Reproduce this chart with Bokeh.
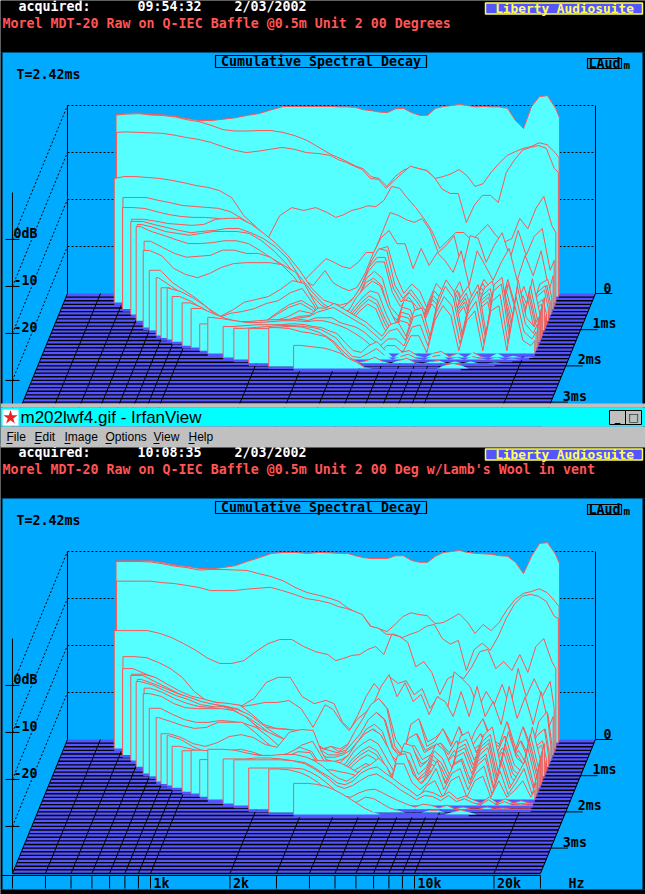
import numpy as np
from bokeh.plotting import figure
from bokeh.embed import file_html
from bokeh.resources import INLINE
from bokeh.core.properties import value

# shared frequency grid of the decay slices (Hz)
HZ = [456,506,562,624,693,770,855,949,1054,1170,1299,1442,1601,1778,1974,2192,2434,2702,3000,
      3217,3450,3699,3966,4253,4560,4890,5244,5623,6029,6465,6933,7434,7971,8548,9166,9829,10540,
      11300,12120,12990,13930,14940,16020,17180,18420,19750,21180,21930]
# time of each slice (ms) and the frequency where it begins (Hz)
SLICE_MS = [0,.03,.08,.25,.36,.43,.52,.58,.69,.75,.88,.94,1.02,1.16,1.23,1.27,1.33,1.44,1.49,1.58,1.66,1.77,1.82,1.93,2.02,2.07]
SLICE_HZ = [460,460,465,466,510,513,562,562,603,602,656,656,699,756,796,844,888,983,1070,1167,1265,1467,1621,1873,2256,2820]

# ---- first measurement, dB per slice (right aligned on HZ)
a00=[-1.9,-1.7,-1.6,-1.9,-2,-2.3,-2.8,-3.2,-3.2,-2.9,-2.6,-2.1,-1.7,-.9,-.2,-.2,-.2,-.2,-.2,-.3,-.3,-.4,-.9,-1.1,-1.4,-1.5,-.7,-.6,-1.5,-2.1,-2.1,-.6,-.2,0,.2,0,-.3,-.2,-.3,-.3,-.6,-3.2,-4.9,-.2,1.9,2.1,-.6,-2.6]
a01=[-1.8,-1.6,-1.5,-1.8,-1.9,-2.2,-2.8,-3.2,-4,-4.9,-5.2,-5.2,-5.1,-5.1,-5.5,-6.2,-7.2,-8.7,-10.2,-10.9,-11.7,-12.6,-13.2,-14.9,-15.3,-17,-14.9,-13.6,-12.8,-13.2,-13.6,-15.3,-14.9,-14.3,-13.4,-14.7,-17,-16.4,-14,-12.1,-10.4,-9.6,-8.9,-8.5,-7.7,-8.1,-9.8,-10.9]
a02=[-5.1,-5,-5.1,-5.2,-5.3,-5.7,-6.2,-6.6,-7.2,-8.1,-8.9,-9.4,-9.1,-8.7,-8.3,-8.7,-9.4,-9.6,-10,-10.9,-11.5,-12.3,-13,-14.9,-15.1,-17,-15.3,-13.8,-12.3,-12.8,-13.2,-14.7,-17.2,-18.1,-18.1,-24.3,-20.6,-18.5,-18.5,-20,-13.6,-11,-8.9,-8.3,-7.9,-8.5,-12.8,-13.6]
a03=[-13.6,-13.2,-13.2,-13.4,-13.6,-14,-14.5,-15.1,-15.5,-16.2,-17.7,-21.5,-23.8,-26.4,-21.5,-19.8,-20.4,-19.8,-20.9,-21.9,-21.3,-20.4,-20,-19.4,-19.6,-18.3,-15.3,-15.7,-17.9,-19.8,-22.1,-24.7,-28.5,-26.8,-25.1,-25.1,-26.8,-25.1,-23.4,-25.7,-27.2,-26.4,-22.1,-24.3,-20,-17.4,-23.6,-25.1]
a04=[-16.8,-16.8,-17.4,-17.9,-18.5,-18.7,-18.9,-19.1,-19.8,-21.3,-23,-25.1,-28.5,-31.9,-34.9,-32.3,-29.8,-30.6,-31.5,-31.9,-30.6,-28.5,-28.5,-24.3,-20,-20.6,-21.5,-22.1,-21.3,-23.8,-28.5,-27,-24.9,-32.3,-24.9,-25.5,-30.6,-27,-24.3,-29.8,-23.8,-29.1,-25.1,-23.4,-32.3,-30.2]
a05=[-18.4,-18.6,-19.3,-19.9,-20.3,-20.5,-20.5,-20.7,-21.2,-21.6,-22.9,-24.6,-26.5,-29.3,-33.5,-35,-31.8,-34.4,-35.4,-36.1,-35.4,-32.4,-28.2,-24.8,-23.3,-26.1,-26.1,-31.4,-27.1,-30.7,-28,-29.7,-32.2,-27.6,-35,-27.6,-30.7,-33.9,-30.1,-27.1,-33.9,-28.6,-32.9,-27.6,-36.1,-32.9]
a06=[-20.2,-20.6,-21.1,-21.3,-21.5,-21.3,-20.2,-20,-20,-21.3,-23.2,-25.3,-27.9,-31.1,-34.9,-37.4,-38,-38.5,-38,-36.5,-34,-29.5,-26.5,-26,-32,-36,-34,-35.5,-39.5,-38,-36,-36.5,-33.5,-39,-37,-33,-35,-39.5,-33,-39,-34.5,-39.5,-34,-33,-37]
a07=[-20.2,-20.9,-21.5,-22.1,-22.6,-22.3,-22.1,-21.7,-21.7,-22.6,-23.8,-25.5,-27.9,-31.7,-34.9,-37.7,-38.7,-38.7,-38.5,-37.7,-34.3,-28.9,-26,-26.4,-33.8,-36.6,-34.7,-37,-39.8,-37.7,-36.6,-38.1,-35.3,-39.8,-36.6,-33.4,-36.6,-39.1,-33.8,-39.6,-36,-39.8,-36,-33.8,-38.1]
a08=[-20,-20.6,-21.5,-21.9,-22.3,-21.9,-21.5,-21.5,-21.5,-21.9,-23.4,-25.5,-28.1,-31.1,-34.5,-37.2,-38,-38,-37.5,-36,-33,-29,-27,-27,-33.5,-36.5,-34.5,-36.5,-39.5,-38,-37,-37.5,-34,-39.5,-37,-33.5,-36,-39.5,-34,-39.5,-35.5,-39.5,-34.5,-33,-37]
a09=[-20,-21.1,-21.9,-22.8,-23.6,-23.6,-23.4,-23,-23,-23.6,-25.1,-26.8,-28.3,-29.8,-34.7,-37.9,-38.5,-38,-37,-35.5,-33,-29.5,-27.5,-27.5,-34,-37,-35,-37,-39.5,-38.5,-37.5,-38,-34.5,-39.5,-37.5,-34,-36,-39.5,-34.5,-39,-36,-39.5,-35,-33.5,-37.5]
a10=[-22.1,-23.4,-24.7,-25.5,-25.3,-25.1,-24,-24,-24.7,-24.7,-25.5,-27.4,-30.4,-33.6,-36.4,-38,-38,-37.5,-36.5,-34,-30,-28.5,-30,-36,-38,-35.5,-37.5,-39.5,-39,-37.5,-38,-35,-39.5,-38,-35,-36.5,-39.5,-35,-39.5,-36.5,-39.5,-36,-34.5,-37.5]
a11=[-23.6,-24.7,-27.4,-28.7,-29.4,-28.5,-27.2,-26.4,-26.2,-26.2,-26.2,-26.6,-29.1,-32.6,-36.4,-38,-38.5,-38,-37,-34.5,-30.5,-29.5,-31,-37,-38.5,-36,-38,-39.5,-39,-38,-38.5,-35.5,-39.5,-38,-36,-37,-39.5,-36,-39.5,-37,-39.5,-36.5,-35,-38]
a12=[-27.2,-29.8,-31.5,-33.2,-35.3,-37,-35.7,-34,-33.4,-32.8,-31.3,-29.4,-30,-34.7,-37.5,-38.5,-38,-36,-33,-31,-29.5,-30.5,-35,-38.5,-33.5,-34,-39,-34,-30,-32,-38.5,-33,-30.5,-36,-31,-29.5,-38,-30,-36.5,-38,-29,-37,-33]
a13=[-27.7,-29.4,-31.1,-33.2,-34.7,-36.2,-35.3,-34.9,-34.3,-33.2,-32.6,-30.9,-30,-33.6,-37.5,-38.5,-38.5,-36.5,-34,-32,-30.5,-31,-35.5,-39,-34,-34.5,-39.5,-34.5,-30.5,-32.5,-39,-33.5,-31,-36.5,-31.5,-30,-38.5,-30.5,-37,-38.5,-29.5,-37.5,-33.5]
a14=[-29.3,-31,-32.7,-34.1,-35.6,-36.3,-36.5,-36.5,-36.5,-34.6,-32.9,-32,-33.5,-36.5,-38,-38.5,-37,-34.5,-32.5,-31,-32,-36,-39,-34.5,-35,-39.5,-35,-31,-33,-39,-34,-31.5,-37,-32,-30.5,-39,-31,-37.5,-39,-30,-38,-34]
a15=[-29.1,-29.8,-31.1,-32.8,-34.9,-36.4,-36.2,-36.2,-36.2,-34.7,-33.2,-32.3,-33.8,-37,-38,-39,-37.5,-35,-33,-31.5,-32.5,-36.5,-39.5,-35,-35.5,-39.5,-35.5,-31.5,-33.5,-39.5,-34.5,-32,-37.5,-32.5,-31,-39.5,-31.5,-38,-39.5,-30.5,-38.5,-34.5]
a16=[-30.4,-31.5,-33.2,-34.7,-36,-36.2,-36.4,-36.2,-35.5,-34.7,-33.4,-34,-37,-38.5,-39,-38,-35.5,-33.5,-32,-33,-37,-39.5,-35.5,-36,-39.5,-36,-32,-34,-39.5,-35,-32.5,-38,-33,-31.5,-39.5,-32,-38.5,-39.5,-31,-39,-35]
a17=[-30.9,-31.9,-33.8,-35.1,-35.7,-36,-35.7,-35.1,-34.7,-33.8,-33.6,-32,-32,-31,-32,-33,-34,-35,-36.5,-38,-35.5,-35,-38,-32.5,-32,-38,-30,-26,-28.5,-37.5,-30,-27,-37.5,-27,-25.5,-37.5,-26,-34,-36,-34]
a18=[-31.7,-32.8,-33.8,-34.5,-34.9,-34.9,-34.7,-34.3,-33.8,-33.4,-32.5,-32,-31.5,-32.5,-33.5,-34.5,-35.5,-37,-38.5,-36.5,-36,-38.5,-33.5,-33,-38.5,-31,-27,-29.5,-38,-31,-28,-38,-28,-26.5,-38,-27,-35,-37,-35]
a19=[-34.3,-34.3,-34,-33.8,-33.8,-33.6,-33.4,-33.4,-33.2,-33.6,-33,-33,-33,-34,-34.5,-35,-36,-37.5,-39,-37.5,-37.5,-39,-35,-34.5,-39,-32,-28.5,-30.5,-38.5,-32,-29.5,-38.5,-29.5,-28,-38.5,-28.5,-36,-37.5,-36]
a20=[-32.3,-32.6,-33,-33.4,-33.4,-33.2,-33,-33,-33.2,-33,-33,-33.4,-34,-34.7,-35.7,-36.8,-38.3,-39.8,-38.3,-38.3,-39.8,-36.2,-36.2,-39.8,-33,-29.8,-31.9,-39.4,-33,-30.9,-39.4,-30.9,-29.8,-39.4,-29.8,-37.2,-38.3,-37.2]
a21=[-33.4,-33.2,-33,-33,-33,-32.8,-33,-33.4,-33.6,-34.3,-34.9,-36.8,-38.5,-38.9,-37.4,-36.6,-38.5,-40,-38.9,-38.5,-39.6,-40,-39.1,-38.7,-39.8,-39.1,-40,-38.9,-39.8,-40,-39.1,-40,-39.6,-40,-39.8,-40]
a22=[-33.4,-33.2,-33,-32.8,-32.8,-33,-33.2,-33.6,-34.5,-35.5,-37.7,-39.4,-39.6,-38.7,-37.7,-39.1,-40,-39.4,-38.9,-39.8,-40,-39.4,-39.1,-40,-39.6,-40,-39.4,-39.8,-40,-39.6,-40,-39.8,-40,-40,-40]
a23=[-32.6,-32.6,-32.3,-32.1,-32.3,-32.8,-33.4,-34.3,-35.5,-37.4,-38.9,-39.8,-39.4,-38.7,-39.6,-40,-39.4,-38.9,-39.8,-40,-39.6,-39.4,-40,-39.6,-40,-39.6,-40,-40,-39.8,-40,-40,-40,-40,-40]
a24=[-31.7,-31.9,-32.6,-32.8,-33.2,-33.6,-34.9,-37,-38.7,-39.8,-40,-40,-40,-40,-40,-40,-40,-40,-40,-40,-40,-40,-40,-40,-40,-40,-40,-40,-40,-40,-40,-40]
a25=[-35.1,-35.3,-35.5,-35.7,-36.2,-36.8,-37.9,-38.7,-39.8,-40,-40,-40,-40,-40,-40,-40,-40,-40,-39.3,-38.9,-39.3,-40,-40,-40,-40,-40,-40,-40,-40,-40]

# ---- second measurement (lamb's wool in vent), dB per slice
b00=[-2,-2,-2,-2,-2.4,-2.9,-3.2,-3.6,-3.7,-3.4,-3,-2.1,-1.3,-.4,-.2,-.2,-.4,-.2,-.3,-.4,-.4,-.9,-1.3,-1.5,-1.5,-1.5,-.9,-.9,-1.9,-2.3,-2.3,-1,-.2,0,.2,-.2,-.4,-.5,-.6,-.9,-1,-2.3,-4.7,-1,1.7,1.9,-.6,-2.6]
b01=[-1.9,-1.9,-1.9,-2,-2.4,-2.9,-3.2,-3.7,-3.6,-3.6,-3.7,-3.8,-4.5,-5.1,-6,-7.4,-8.5,-9.1,-9.8,-10.4,-11.7,-12.6,-13.4,-15.7,-16.2,-16.8,-15.3,-13.6,-12.8,-13.2,-13.4,-15.1,-14.9,-14,-13,-14.7,-17.2,-15.3,-16.6,-14.9,-12.1,-10,-8.7,-8.3,-7.7,-8.5,-10.4,-11.5]
b02=[-5.7,-5.7,-5.7,-5.7,-6,-6.2,-6.6,-7,-7.7,-7.7,-7.7,-7.4,-7.2,-7,-7.7,-8.5,-9.4,-9.8,-10.4,-11.1,-11.5,-12.1,-12.8,-15.3,-15.7,-17,-17,-17.7,-17,-16.4,-15.3,-14.9,-17.9,-19.1,-18.3,-24.7,-20.2,-18.9,-20.4,-17.4,-13.6,-10.6,-8.9,-8.5,-8.9,-10,-13.2,-13.6]
b03=[-14.9,-14.9,-14.9,-14.9,-15.5,-16.4,-17.7,-19.1,-20.8,-21.9,-21.9,-21.3,-19.4,-17.7,-16.8,-16.8,-18.3,-19.4,-20,-21.3,-20.8,-20.2,-20,-18.9,-18.3,-20,-15.7,-16.2,-17.4,-22.6,-21.5,-23.8,-28.5,-25.1,-24.3,-25.1,-22.6,-19.4,-18.9,-23,-21.5,-23.4,-20,-23.8,-18.3,-16.6,-21.5,-23]
b04=[-19.6,-19.8,-20.8,-22.1,-24,-27,-28.9,-29.4,-29.8,-30,-28.5,-25.1,-24,-24,-28.1,-29.6,-28.9,-29.6,-33.4,-35.1,-31.9,-28.1,-25.3,-27.4,-24,-25.3,-24.7,-27.7,-26.4,-30.6,-28.1,-32.3,-22.8,-24.3,-26,-30.6,-27,-29.8,-25.5,-30.6,-22.1,-28.1,-24.3,-28.1,-24.9,-30.6]
b05=[-21.6,-22.7,-23.7,-25.6,-27.1,-28.8,-29.5,-29.9,-30.1,-29.7,-29.3,-28.8,-28.8,-28.4,-30.1,-34.1,-29.3,-30.3,-32.9,-34.8,-32.4,-31,-29.3,-25.4,-22.9,-27.6,-24.6,-28.6,-27.1,-31.4,-27.6,-28.6,-31.8,-26.5,-31.8,-25.4,-31.8,-28.6,-33.5,-25.4,-32.2,-27.6,-33.5,-26.5,-33.9,-31.8]
b06=[-22.1,-22.8,-24.3,-25.7,-26.8,-27.4,-28.1,-28.3,-28.7,-30.6,-32.8,-33.6,-33.8,-34.3,-36.4,-37.9,-37.5,-38,-37,-34.5,-32,-29,-27.5,-29.5,-36,-38.5,-33,-32,-36.5,-35.5,-34,-37,-33.5,-38,-34.5,-32,-36,-37,-32.5,-38,-33.5,-38,-32.5,-30.5,-37]
b07=[-21.9,-23.2,-24.5,-25.8,-26.8,-27.7,-28.1,-28.5,-29.1,-31.1,-32.8,-33.2,-33.4,-33.6,-35.3,-37.7,-37,-38.1,-37,-33.8,-31.1,-28.1,-26.8,-28.9,-37,-39.1,-32.3,-31.1,-37,-36,-33.2,-37,-32.8,-38.1,-33.8,-31.1,-36,-37,-31.7,-38.1,-32.8,-38.1,-31.7,-29.6,-37]
b08=[-21.9,-22.8,-23.8,-24.9,-25.7,-26.6,-27.2,-27.7,-28.3,-29.4,-31.3,-33.2,-34.7,-35.5,-36,-36.6,-37,-37.5,-37,-35.5,-33.5,-30.5,-29,-30.5,-36.5,-38,-34.5,-33.5,-37,-36,-35.5,-37.5,-35,-38,-36,-33.5,-37,-37.5,-34,-38.5,-35,-38.5,-34,-32.5,-37.5]
b09=[-21.9,-22.6,-23.8,-24.9,-25.7,-26.8,-27.2,-27.9,-28.5,-29.6,-31.3,-33.4,-34.7,-35.1,-35.3,-36.4,-37.5,-37.5,-37,-35,-33,-30,-28.5,-30,-36,-38,-34,-33,-37,-36,-35,-37.5,-34.5,-38,-35.5,-33,-36.5,-37.5,-33.5,-38.5,-34.5,-38.5,-33.5,-32,-37.5]
b10=[-22.3,-23.2,-24.5,-25.5,-26.2,-26.4,-26.2,-27,-28.7,-30.6,-31.9,-33,-33.8,-35.1,-36,-37,-37,-36.5,-35.5,-33.5,-31,-30,-31.5,-36.5,-38,-35,-34.5,-37.5,-36.5,-36,-38,-35.5,-38.5,-36,-34.5,-37,-38,-35,-38.5,-35.5,-38.5,-35,-33.5,-37.5]
b11=[-23,-23.6,-25.1,-26,-26.2,-26.2,-26.2,-26.6,-27.9,-30.2,-32.8,-34.5,-35.1,-35.3,-36,-37,-37.5,-37,-36,-34,-31.5,-30.5,-32,-37,-38.5,-35.5,-35,-38,-37,-36.5,-38,-36,-38.5,-36.5,-35,-37.5,-38.5,-35.5,-39,-36,-39,-35.5,-34,-38]
b12=[-25.5,-26.8,-27.9,-28.5,-28.5,-28.1,-28.3,-28.7,-29.6,-31.5,-33.8,-34.9,-35.7,-36.2,-37,-37.5,-37,-35.5,-33,-31,-30,-31,-34,-37.5,-33,-33.5,-38,-36.5,-33,-34.5,-38.5,-31.5,-30.5,-35,-31,-29.5,-37.5,-30.5,-36,-37.5,-29.5,-36.5,-33]
b13=[-26.4,-27.2,-28.1,-28.7,-28.5,-27.4,-27.4,-27.4,-29.4,-31.7,-33.6,-34.9,-35.5,-36,-37,-38,-37.5,-36,-33.5,-32,-31,-32,-35,-38,-33.5,-34,-38.5,-37,-33.5,-35,-39,-32,-31,-35.5,-31.5,-30,-38,-31,-36.5,-38,-30,-37,-33.5]
b14=[-29.3,-30.1,-31.4,-32,-31.2,-29.9,-29.5,-30.1,-31.6,-32.2,-29,-28.4,-28.6,-33,-36,-37.5,-36.5,-34.5,-33,-32,-33,-36,-38.5,-34.5,-35,-39,-37.5,-34,-35.5,-39,-32.5,-31.5,-36,-32,-30.5,-38.5,-31.5,-37,-38.5,-30.5,-37.5,-34]
b15=[-29.4,-30.2,-31.7,-32.8,-33,-32.6,-32.3,-32.9,-33.8,-34.3,-33.6,-31.5,-30.6,-33.5,-36.5,-38,-37,-35,-33.5,-32.5,-33.5,-36.5,-39,-35,-35.5,-39,-38,-34.5,-36,-39.5,-33,-32,-36.5,-32.5,-31,-39,-32,-37.5,-39,-31,-38,-34.5]
b16=[-31.2,-31.8,-32.7,-32.5,-32.5,-32.7,-32.9,-33.3,-33.5,-32.7,-31.4,-32.3,-35,-37,-38,-37.5,-35.5,-34,-33,-34,-37,-39.5,-35.5,-36,-39.5,-38.5,-35,-36.5,-39.5,-33.5,-32.5,-37,-33,-31.5,-39.5,-32.5,-38,-39.5,-31.5,-38.5,-35]
b17=[-31.3,-32,-32.3,-32.3,-32.1,-32.1,-32.3,-32.6,-32.6,-31.5,-31.7,-34,-36,-37.5,-37.5,-36,-35,-34,-35,-37.5,-39.5,-36,-36.5,-39.5,-39,-35.5,-37,-39.5,-34,-33,-37.5,-33.5,-32,-39.5,-33,-38.5,-39.5,-32,-39,-35.5]
b18=[-30.8,-31,-31.8,-32.3,-32.3,-32.3,-32.3,-32.3,-32.5,-32.7,-33,-33.1,-33.1,-33.6,-34.5,-35.5,-35,-34,-36,-38.5,-32,-31.5,-36,-38,-36,-33,-38,-34,-33,-38,-34,-32.5,-39,-33.5,-39,-36,-33,-39,-36]
b19=[-32.1,-32.1,-32.1,-32.1,-32.3,-32.6,-32.6,-32.6,-32.8,-33.4,-34,-34.3,-34.3,-34.7,-35,-35.5,-35,-34,-36,-39,-33,-33,-37,-38.5,-37,-34,-38.5,-35,-34,-38.5,-35,-33.5,-39.5,-34.5,-39.5,-37,-34,-39.5,-37]
b20=[-29.3,-29.3,-29.5,-30.1,-30.6,-30.6,-30.4,-30.4,-31,-31.8,-32.9,-34.4,-35.5,-36.1,-35,-33.3,-32.5,-31.2,-33,-37,-38,-38.5,-39.5,-37,-36,-39.5,-36,-35,-39.5,-36,-35,-39.5,-36,-39.5,-38,-36,-39.5,-38]
b21=[-30.5,-30.5,-30.3,-30.3,-30.5,-30.9,-31.3,-32.2,-33.3,-34.3,-35.6,-36,-35.2,-33.5,-32.6,-32.2,-33.5,-34.7,-36,-37.1,-38.4,-37.3,-37.7,-38.6,-37.5,-39,-38.4,-39.2,-39.9,-38.6,-39.9,-39,-39.9,-39.4,-39.9,-39.9]
b22=[-30.3,-30.3,-30.3,-30.3,-30.5,-31.1,-32,-33.1,-34.3,-35.8,-36.4,-35.8,-34.7,-33.7,-33.3,-34.3,-35.4,-36.7,-37.7,-38.8,-37.9,-38.1,-39,-37.9,-39.2,-38.6,-39.4,-39.9,-38.8,-39.9,-39.2,-39.9,-39.7,-39.9,-39.9]
b23=[-31.2,-31.2,-31.2,-31.2,-31.4,-32.1,-33.1,-34.4,-35.9,-37.2,-37.4,-36.5,-35.9,-35.7,-36.5,-37.4,-38.2,-38.9,-39.5,-38.9,-39.1,-39.7,-39.1,-39.9,-39.5,-39.9,-39.9,-39.5,-39.9,-39.7,-39.9,-39.9,-39.9,-39.9]
b24=[-30.7,-30.9,-31.6,-32.4,-33.5,-35,-36.7,-37.7,-38.1,-37.7,-36.7,-37,-38,-39,-39.5,-40,-40,-40,-39.5,-39.5,-40,-40,-40,-40,-40,-40,-40,-40,-40,-40,-40,-40]
b25=[-33.4,-33.4,-33.6,-34,-34.6,-35.5,-36.5,-37.6,-38.7,-39.5,-40,-40,-40,-40,-40,-40,-40,-40,-40,-39.5,-39,-39.5,-40,-40,-40,-40,-40,-40,-40,-40]

RUN_A = [a00,a01,a02,a03,a04,a05,a06,a07,a08,a09,a10,a11,a12,a13,a14,a15,a16,a17,a18,a19,a20,a21,a22,a23,a24,a25]
RUN_B = [b00,b01,b02,b03,b04,b05,b06,b07,b08,b09,b10,b11,b12,b13,b14,b15,b16,b17,b18,b19,b20,b21,b22,b23,b24,b25]

FREQ_TICKS = [300,400,500,600,700,800,900,1000,2000,3000,4000,5000,6000,7000,8000,9000,10000,20000,30000]
FREQ_LABELS = {1000:"1k",2000:"2k",10000:"10k",20000:"20k"}
DB_TICKS = [0,-10,-20,-30]
DB_LABELS = ["0dB","-10","-20",""]
MS_TICKS = [0,1,2,3]
MS_LABELS = ["0","1ms","2ms","3ms"]
TITLE_A = "Morel MDT-20 Raw on Q-IEC Baffle @0.5m Unit 2 00 Degrees"
TITLE_B = "Morel MDT-20 Raw on Q-IEC Baffle @0.5m Unit 2 00 Deg w/Lamb's Wool in vent"

BG="#00AAFF"; FLOOR="#5555FF"; FILL="#55FFFF"; RED="#FF5555"; YEL="#FFFF55"; GREY="#C0C0C0"
MONO=value("DejaVu Sans Mono")

p = figure(width=645, height=894, x_range=(0,645), y_range=(894,0), output_backend="svg",
           toolbar_location=None, min_border=0, outline_line_color=None, background_fill_color="black",
           border_fill_color="black")
p.axis.visible=False; p.grid.visible=False

# oblique projection of (frequency, time, level)
T_END=3.7; SKEW=55.0
def px(hz,t): return 150+264*np.log10(np.asarray(hz,float)/1000)+SKEW*(1-np.asarray(t,float)/T_END)
def py(db,t,off): return off+293+36.2*np.asarray(t,float)-4.7*(np.asarray(db,float)+40)

def box(l,r,t,b,c,line=None,w=1):
    p.quad(left=[l],right=[r],top=[t],bottom=[b],fill_color=c,line_color=line,line_width=w)
def label(x,y,s,c="black",size="13.3px",font=MONO,style="bold",align="left"):
    p.text(x=[x],y=[y],text=[s],text_color=c,text_font=font,text_font_size=size,text_font_style=style,
           text_align=align,text_baseline="middle")

def panel(off,run,title,stamp):
    box(0,645,off,off+52,"black")
    box(0,645,off+52,off+443,BG)
    box(0,2,off+52,off+443,"black"); box(642,645,off+52,off+443,"black")
    label(18,off+6,"acquired:","white"); label(137,off+6,stamp,"white"); label(234,off+6,"2/03/2002","white")
    box(485,642,off+2.5,off+13.5,FLOOR,YEL,1.5); label(564,off+8.3,"Liberty Audiosuite",YEL,size="12.8px",align="center")
    label(2,off+22.5,title,RED)
    box(215,426,off+55,off+67,BG,"black",1.2); label(320.5,off+61,"Cumulative Spectral Decay",align="center")
    label(16,off+74,"T=2.42ms")
    box(587,621,off+58,off+68,BG,"black",1.2); label(588,off+63,"LAud"); label(623,off+65,"m",size="11px")
    t_lo,t_hi=0.0,T_END
    xs=[float(px(300,t_hi)),float(px(300,t_lo)),float(px(30000,t_lo)),float(px(30000,t_hi))]
    ys=[float(py(-40,t_hi,off)),float(py(-40,t_lo,off)),float(py(-40,t_lo,off)),float(py(-40,t_hi,off))]
    p.patch(xs,ys,fill_color=FLOOR,line_color=None)
    for t in np.arange(0.1,3.71,0.1):
        p.line([float(px(300,t)),float(px(30000,t))],[float(py(-40,t,off))]*2,line_color="black",line_width=1.4)
    for f in FREQ_TICKS:
        p.line([float(px(f,t_hi)),float(px(f,0))],[float(py(-40,t_hi,off)),float(py(-40,0,off))],line_color="black",line_width=1)
    x_bl=float(px(300,0)); x_br=float(px(30000,0)); x_fl=float(px(300,T_END))
    for d in DB_TICKS:
        p.line([x_fl,x_bl],[float(py(d,T_END,off)),float(py(d,0,off))],line_color="black",line_dash="2 2",line_width=1)
        p.line([x_bl,x_br],[float(py(d,0,off))]*2,line_color="black",line_dash="2 2",line_width=1)
        p.line([x_fl-7,x_fl+7],[float(py(d,T_END,off))]*2,line_color="black",line_width=1)
    p.line([x_bl,x_bl],[float(py(0,0,off)),float(py(-40,0,off))],line_color="black",line_width=1)
    p.line([x_br,x_br],[float(py(0,0,off)),float(py(-40,0,off))],line_color="black",line_width=1)
    p.line([x_fl,x_fl],[float(py(10,T_END,off)),float(py(-40,T_END,off))],line_color="black",line_width=1)
    for d,s in zip(DB_TICKS,DB_LABELS):
        if s: label(13,float(py(d,T_END,off))-6,s)
    for m,s in zip(MS_TICKS,MS_LABELS):
        xm=float(px(30000,m)); ym=float(py(-40,m,off))
        p.line([xm,xm+17],[ym,ym],line_color="black",line_width=1)
        label(xm+(8 if m==0 else 12),ym-6,s)
    for t,start,db in zip(SLICE_MS,SLICE_HZ,run):
        db=np.asarray(db,float); hz=np.maximum(np.asarray(HZ[-len(db):],float),start)
        hz=np.r_[start,hz]; db=np.r_[db[0],db]
        x=px(hz,t); base=float(py(-40,t,off)); y=py(np.maximum(db,-40),t,off)
        # the shadow under a slice only runs as far as the slice has any height
        above=np.nonzero(db>-39.95)[0]
        p.line([x[0],x[above[-1]]],[base+1.5,base+1.5],line_color=FLOOR,line_width=2.5)
        p.patch(np.r_[x[0],x,x[-1]],np.r_[base,y,base],fill_color=FILL,line_color=None)
        yl=y.copy(); yl[db<=-39.95]=np.nan
        p.line(np.r_[x[0],x,x[-1]],np.r_[base,yl,base if db[-1]>-39.95 else np.nan],line_color=RED,line_width=1)

panel(0,RUN_A,TITLE_A,"09:54:32")
panel(446,RUN_B,TITLE_B,"10:08:35")

# frequency scale under the second panel
p.line([0,float(px(30000,T_END))],[875,875],line_color="black",line_width=1.2)
for f in FREQ_TICKS:
    xf=float(px(f,T_END))
    p.line([xf,xf],[875,888],line_color="black",line_width=1)
    if f in FREQ_LABELS: label(xf+3,883,FREQ_LABELS[f])
label(568,883,"Hz")
box(0,645,889.5,894,"black")

# viewer window chrome between the two panels
box(0,645,403,407,GREY)
box(0,645,407,426,"#00FFFF")
box(0,645,426,447,GREY)
box(2,18,409,425,"white")
p.scatter(x=[10],y=[417],marker="star",size=15,fill_color="#EE2222",line_color=None)
label(20,417,"m202lwf4.gif - IrfanView","black",size="17px",font=value("Liberation Sans"),style="normal")
for l,glyph in ((609,"_"),(625,"□")):
    box(l,l+16,410,424,GREY,"black",1)
    label(l+8,417,glyph,"black",size="11px",font=value("DejaVu Sans"),style="bold",align="center")
for xm,s in zip((6,34,64,105,153,188),("File","Edit","Image","Options","View","Help")):
    label(xm,436,s,"black",size="12px",font=value("Liberation Sans"),style="normal")
    p.line([xm,xm+6],[443,443],line_color="black",line_width=1)

open("out.html","w").write(file_html(p, INLINE))
